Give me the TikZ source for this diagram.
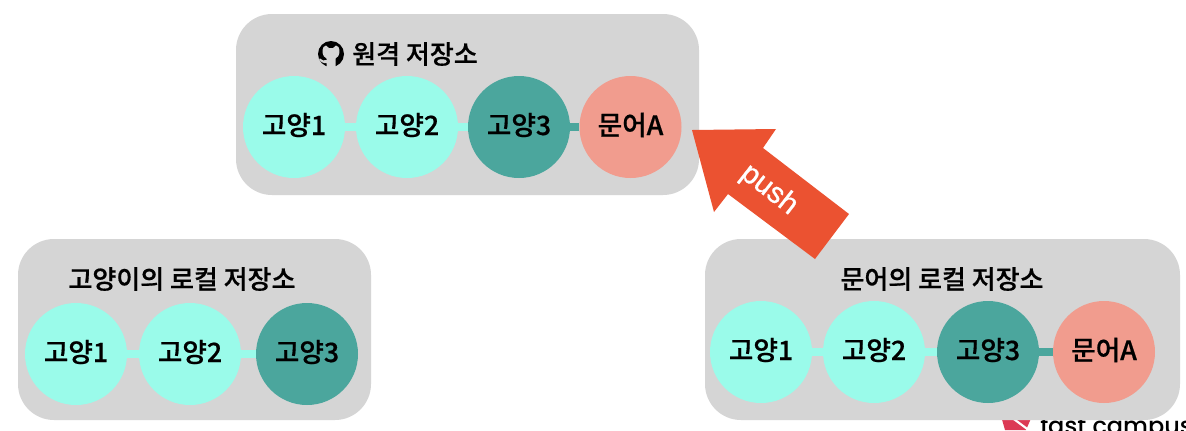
\documentclass[tikz,border=0pt]{standalone}
\usepackage{fontspec}
\setmainfont{Noto Sans CJK KR Medium}[RawFeature={embolden=0.6}]
\newfontfamily\latinf{Liberation Sans}[RawFeature={embolden=0.8}]
\newfontfamily\fastf{Poppins Medium}
\definecolor{panelgray}{HTML}{D5D5D5}
\definecolor{mint}{HTML}{9AFBEA}
\definecolor{teal}{HTML}{4BA69D}
\definecolor{salmon}{HTML}{F19C8E}
\definecolor{pushred}{HTML}{EB5231}
\definecolor{logored}{HTML}{DC3A55}
\tikzset{
  panel/.style={fill=panelgray,rounded corners=27pt,inner sep=0pt,minimum width=#1},
  commit/.style={circle,minimum size=76.5pt,inner sep=0pt,text height=18pt,text depth=6pt,font=\fontsize{20pt}{22pt}\selectfont,text=black},
  catc/.style={commit,fill=mint},
  oldc/.style={commit,fill=teal},
  octc/.style={commit,fill=salmon},
  title/.style={font=\fontsize{19.5pt}{22pt}\selectfont,text=black,inner sep=0pt},
  lightlink/.style={draw=mint,line width=6.5pt},
  darklink/.style={draw=teal,line width=6.5pt},
}
\begin{document}
\begin{tikzpicture}[x=0.75pt,y=-0.75pt]
\useasboundingbox (0,0) rectangle (1186,430);
\clip (0,0) rectangle (1186,430);
\fill[white] (0,0) rectangle (1186,430);
% logo below the panel
\fill[logored] (1001,416) -- (1032,416) -- (1026,430) -- (1005,430) -- cycle;
\draw[white,line width=1.6pt] (1007,414) -- (1030,431);
\node[anchor=base west,inner sep=0pt,font=\fastf\fontsize{18pt}{20pt}\selectfont,text=black] (fc) at (1040,434) {fast campus};
% panels
\node[panel=347.25pt,minimum height=135.75pt] (top) at (467.5,104.5) {};
\node[panel=264.75pt,minimum height=135.75pt] (left) at (194.5,329.5) {};
\node[panel=356.25pt,minimum height=135.75pt] (right) at (942.5,329.5) {};
% titles
\node[title,anchor=west] (t1) at (352,54) {원격 저장소};
\node[title] (t2) at (182,279) {고양이의 로컬 저장소};
\node[title] (t3) at (942,279) {문어의 로컬 저장소};
% github mark
\fill[black] (331,54) circle[radius=13];
\fill[panelgray] (323.5,47) -- (326,45.5) -- (329,48) -- (333,48) -- (336,45.5) -- (338.5,47)
  .. controls (340,50) and (340.5,56) .. (335.5,58.5) -- (335.5,68) -- (326.5,68) -- (326.5,63)
  .. controls (323,63.5) and (321,62) .. (319,59) -- (320,58.5)
  .. controls (322,60.5) and (324,61) .. (326.5,60) -- (326.5,58.5)
  .. controls (321.5,56) and (322,50) .. (323.5,47) -- cycle;
% top row
\node[catc] (a1) at (294,127) {고양1};
\node[catc] (a2) at (407,127) {고양2};
\node[oldc] (a3) at (519,127) {고양3};
\node[octc] (a4) at (630.5,127) {문어A};
\draw[lightlink] (a1) -- (a2);
\draw[lightlink] (a2) -- (a3);
\draw[darklink] (a3) -- (a4);
% left row
\node[catc] (b1) at (76,354) {고양1};
\node[catc] (b2) at (190,354) {고양2};
\node[oldc] (b3) at (307,354) {고양3};
\draw[lightlink] (b1) -- (b2);
\draw[lightlink] (b2) -- (b3);
% right row
\node[catc] (c1) at (761,352) {고양1};
\node[catc] (c2) at (874,352) {고양2};
\node[oldc] (c3) at (988,352) {고양3};
\node[octc] (c4) at (1104,352) {문어A};
\draw[lightlink] (c1) -- (c2);
\draw[lightlink] (c2) -- (c3);
\draw[darklink] (c3) -- (c4);
% push arrow
\fill[pushred] (692,130) -- (776,129) -- (763,148) -- (849,214) -- (815,259) -- (728,194) -- (714,212) -- cycle;
\node[rotate=-38,inner sep=0pt,font=\latinf\fontsize{22pt}{24pt}\selectfont,text=white] (push) at (769,190) {push};
\end{tikzpicture}
\end{document}
